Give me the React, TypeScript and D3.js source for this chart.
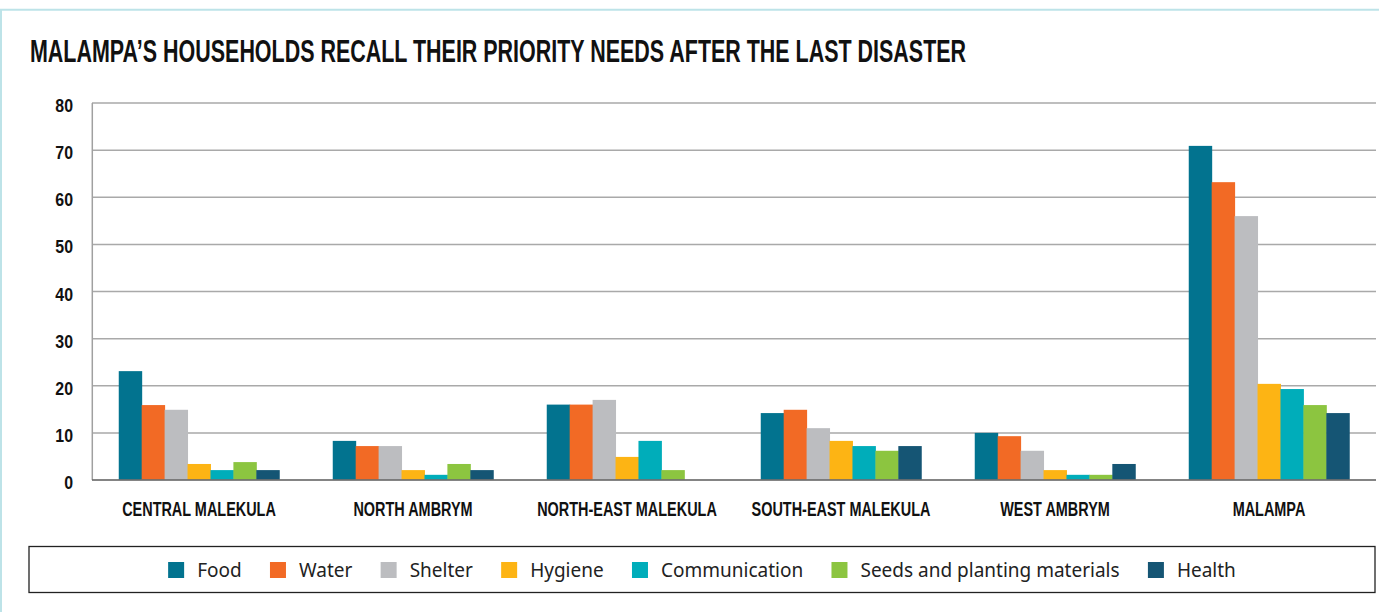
import React, { useMemo } from "react";
import * as d3 from "d3";

const title = "MALAMPA’S HOUSEHOLDS RECALL THEIR PRIORITY NEEDS AFTER THE LAST DISASTER";
const categories = ["CENTRAL MALEKULA", "NORTH AMBRYM", "NORTH-EAST MALEKULA", "SOUTH-EAST MALEKULA", "WEST AMBRYM", "MALAMPA"];
const seriesNames = ["Food", "Water", "Shelter", "Hygiene", "Communication", "Seeds and planting materials", "Health"];
const seriesColors = ["#02738F", "#F26A25", "#BCBDC0", "#FDB414", "#00ADBA", "#8CC540", "#155574"];
const food = [23.1, 8.3, 16.0, 14.2, 10.0, 70.9];
const water = [15.9, 7.2, 16.0, 14.9, 9.3, 63.2];
const shelter = [14.9, 7.2, 17.0, 11.0, 6.2, 56.0];
const hygiene = [3.4, 2.1, 4.9, 8.3, 2.1, 20.4];
const communication = [2.1, 1.1, 8.3, 7.2, 1.1, 19.3];
const seeds = [3.8, 3.4, 2.1, 6.2, 1.1, 15.9];
const health = [2.1, 2.1, 0, 7.2, 3.4, 14.2];
const seriesValues = [food, water, shelter, hygiene, communication, seeds, health];
const yTicks = [0, 10, 20, 30, 40, 50, 60, 70, 80];

const W = 1379;
const H = 612;
const condensed = "'Liberation Sans', Arial, sans-serif";
const legendFont = "'Noto Sans', sans-serif";

function measure(text: string, font: string): number {
  const c = document.createElement("canvas");
  const ctx = c.getContext("2d");
  if (!ctx) return text.length * 9;
  ctx.font = font;
  return ctx.measureText(text).width;
}

export default function App() {
  const x0 = d3.scaleBand<string>().domain(categories).range([92, 1376]).paddingInner(0.25).paddingOuter(0.125);
  const x1 = d3.scaleBand<string>().domain(seriesNames).range([0, x0.bandwidth()]).padding(0);
  const y = d3.scaleLinear().domain([0, 80]).range([480, 103]);

  const catFont = `bold 20px ${condensed}`;
  const catSquash = useMemo(() => 154 / measure(categories[0], catFont), []);
  const tickFont = `bold 17.5px ${condensed}`;
  const tickSquash = useMemo(() => 17.7 / measure("80", tickFont), []);
  const titleFont = `bold 32px ${condensed}`;
  const titleSquash = useMemo(() => 938 / measure(title, titleFont), []);

  const legend = useMemo(() => {
    const sq = 16;
    const gapText = 13;
    const gapItem = 28.3;
    const widths = seriesNames.map((n) => measure(n, `19px ${legendFont}`));
    const total = widths.reduce((a, w) => a + sq + gapText + w, 0) + gapItem * (seriesNames.length - 1);
    let cx = (29 + 1375) / 2 - total / 2;
    return seriesNames.map((n, i) => {
      const item = { name: n, color: seriesColors[i], x: cx };
      cx += sq + gapText + widths[i] + gapItem;
      return item;
    });
  }, []);

  return (
    <svg width={W} height={H} style={{ position: "fixed", left: 0, top: 0, background: "#fff" }}>
      <rect x={0} y={0} width={W} height={H} fill="#fff" />
      {/* frame */}
      <line x1={0} x2={W} y1={9.7} y2={9.7} stroke="#BDE3E8" strokeWidth={2} />
      <line x1={1} x2={1} y1={9} y2={H} stroke="#BDE3E8" strokeWidth={2} />

      <g transform={`translate(30,62) scale(${titleSquash},1)`}>
        <text x={0} y={0} fontFamily={condensed} fontWeight="bold" fontSize={32} fill="#111">{title}</text>
      </g>

      {/* grid */}
      {yTicks.map((t) => (
        <g key={t}>
          {t > 0 && <line x1={92} x2={1376} y1={y(t)} y2={y(t)} stroke="#A9A9A9" strokeWidth={1.5} />}
          <g transform={`translate(73,${y(t) + 9}) scale(${tickSquash},1)`}>
            <text x={0} y={0} textAnchor="end" fontFamily={condensed} fontWeight="bold" fontSize={17.5} fill="#111">{t}</text>
          </g>
        </g>
      ))}
      <line x1={92.3} x2={92.3} y1={y(80)} y2={y(0)} stroke="#A0A0A0" strokeWidth={1.5} />

      {/* bars */}
      {categories.map((c, ci) => (
        <g key={c} transform={`translate(${x0(c)},0)`}>
          {seriesNames.map((s, si) => {
            const v = seriesValues[si][ci];
            if (!v) return null;
            return (
              <rect key={s} x={x1(s)} y={y(v)} width={x1.bandwidth() + 0.5} height={y(0) - y(v)} fill={seriesColors[si]} />
            );
          })}
        </g>
      ))}
      <line x1={92} x2={1376} y1={y(0)} y2={y(0)} stroke="#6E6E6E" strokeWidth={2} strokeOpacity={0.85} />

      {categories.map((c) => (
        <g key={c} transform={`translate(${(x0(c) as number) + x0.bandwidth() / 2},516) scale(${catSquash},1)`}>
          <text x={0} y={0} textAnchor="middle" fontFamily={condensed} fontWeight="bold" fontSize={20} fill="#111">{c}</text>
        </g>
      ))}

      {/* legend */}
      <rect x={29} y={546.5} width={1346} height={46} fill="none" stroke="#222" strokeWidth={1.3} />
      {legend.map((l) => (
        <g key={l.name}>
          <rect x={l.x} y={562} width={16} height={16} fill={l.color} />
          <text x={l.x + 29} y={577} fontFamily={legendFont} fontSize={19} fill="#222">{l.name}</text>
        </g>
      ))}
    </svg>
  );
}
